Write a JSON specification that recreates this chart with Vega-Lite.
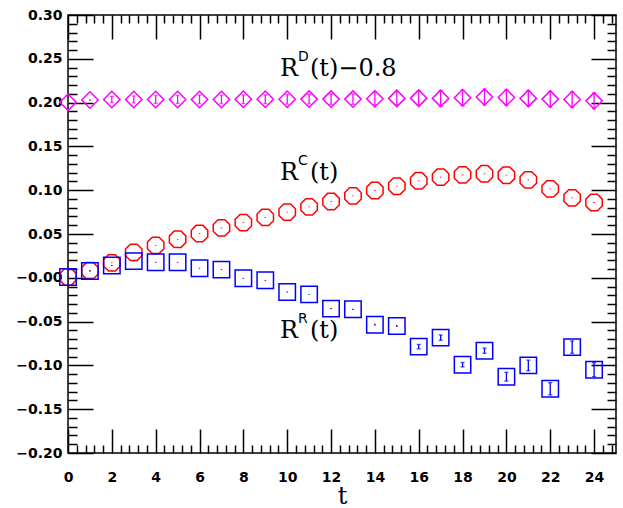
{
  "$schema": "https://vega.github.io/schema/vega-lite/v6.json",
  "width": 548,
  "height": 438,
  "autosize": "none",
  "padding": {"left": 68, "top": 15, "right": 7, "bottom": 55},
  "background": "white",
  "config": {
    "view": {"stroke": "black", "strokeWidth": 1.5},
    "axis": {
      "domain": false,
      "grid": false,
      "tickColor": "black",
      "tickWidth": 1.5,
      "labelFont": "DejaVu Sans",
      "labelFontWeight": "bold",
      "labelFontSize": 14,
      "labelColor": "black",
      "labelOverlap": false,
      "labelBound": false,
      "labelFlush": false
    }
  },
  "datasets": {
    "pts": [
      {"t": 0, "v": 0.2005, "err": 0.0005, "s": "D"},
      {"t": 1, "v": 0.2029, "err": 0.001, "s": "D"},
      {"t": 2, "v": 0.2036, "err": 0.0035, "s": "D"},
      {"t": 3, "v": 0.2036, "err": 0.004, "s": "D"},
      {"t": 4, "v": 0.2036, "err": 0.0045, "s": "D"},
      {"t": 5, "v": 0.2036, "err": 0.0045, "s": "D"},
      {"t": 6, "v": 0.2036, "err": 0.005, "s": "D"},
      {"t": 7, "v": 0.2036, "err": 0.005, "s": "D"},
      {"t": 8, "v": 0.2038, "err": 0.005, "s": "D"},
      {"t": 9, "v": 0.2038, "err": 0.005, "s": "D"},
      {"t": 10, "v": 0.2038, "err": 0.0055, "s": "D"},
      {"t": 11, "v": 0.204, "err": 0.0055, "s": "D"},
      {"t": 12, "v": 0.204, "err": 0.006, "s": "D"},
      {"t": 13, "v": 0.204, "err": 0.006, "s": "D"},
      {"t": 14, "v": 0.2044, "err": 0.007, "s": "D"},
      {"t": 15, "v": 0.2048, "err": 0.0075, "s": "D"},
      {"t": 16, "v": 0.2051, "err": 0.008, "s": "D"},
      {"t": 17, "v": 0.2048, "err": 0.009, "s": "D"},
      {"t": 18, "v": 0.2055, "err": 0.009, "s": "D"},
      {"t": 19, "v": 0.2063, "err": 0.009, "s": "D"},
      {"t": 20, "v": 0.2059, "err": 0.009, "s": "D"},
      {"t": 21, "v": 0.2048, "err": 0.009, "s": "D"},
      {"t": 22, "v": 0.204, "err": 0.009, "s": "D"},
      {"t": 23, "v": 0.2036, "err": 0.009, "s": "D"},
      {"t": 24, "v": 0.202, "err": 0.009, "s": "D"},
      {"t": 0, "v": 0.001, "err": 0.0005, "s": "C"},
      {"t": 1, "v": 0.008, "err": 0.0005, "s": "C"},
      {"t": 2, "v": 0.017, "err": 0.0005, "s": "C"},
      {"t": 3, "v": 0.029, "err": 0.0005, "s": "C"},
      {"t": 4, "v": 0.037, "err": 0.0005, "s": "C"},
      {"t": 5, "v": 0.044, "err": 0.0005, "s": "C"},
      {"t": 6, "v": 0.0505, "err": 0.0005, "s": "C"},
      {"t": 7, "v": 0.057, "err": 0.0005, "s": "C"},
      {"t": 8, "v": 0.063, "err": 0.0005, "s": "C"},
      {"t": 9, "v": 0.069, "err": 0.0005, "s": "C"},
      {"t": 10, "v": 0.075, "err": 0.0005, "s": "C"},
      {"t": 11, "v": 0.081, "err": 0.0005, "s": "C"},
      {"t": 12, "v": 0.087, "err": 0.0005, "s": "C"},
      {"t": 13, "v": 0.0935, "err": 0.0005, "s": "C"},
      {"t": 14, "v": 0.0996, "err": 0.0005, "s": "C"},
      {"t": 15, "v": 0.1046, "err": 0.0005, "s": "C"},
      {"t": 16, "v": 0.1107, "err": 0.0005, "s": "C"},
      {"t": 17, "v": 0.1149, "err": 0.0005, "s": "C"},
      {"t": 18, "v": 0.1175, "err": 0.0005, "s": "C"},
      {"t": 19, "v": 0.1187, "err": 0.0005, "s": "C"},
      {"t": 20, "v": 0.1171, "err": 0.0005, "s": "C"},
      {"t": 21, "v": 0.1118, "err": 0.0005, "s": "C"},
      {"t": 22, "v": 0.1015, "err": 0.0005, "s": "C"},
      {"t": 23, "v": 0.0912, "err": 0.0005, "s": "C"},
      {"t": 24, "v": 0.0859, "err": 0.0005, "s": "C"},
      {"t": 0, "v": 0.001, "err": 0.0005, "s": "R"},
      {"t": 1, "v": 0.0078, "err": 0.0005, "s": "R"},
      {"t": 2, "v": 0.014, "err": 0.0005, "s": "R"},
      {"t": 3, "v": 0.019, "err": 0.0005, "s": "R"},
      {"t": 4, "v": 0.0177, "err": 0.0005, "s": "R"},
      {"t": 5, "v": 0.0177, "err": 0.0005, "s": "R"},
      {"t": 6, "v": 0.0109, "err": 0.0005, "s": "R"},
      {"t": 7, "v": 0.0093, "err": 0.0005, "s": "R"},
      {"t": 8, "v": -0.0006, "err": 0.0005, "s": "R"},
      {"t": 9, "v": -0.0029, "err": 0.0005, "s": "R"},
      {"t": 10, "v": -0.0162, "err": 0.0005, "s": "R"},
      {"t": 11, "v": -0.0189, "err": 0.0005, "s": "R"},
      {"t": 12, "v": -0.0352, "err": 0.0008, "s": "R"},
      {"t": 13, "v": -0.036, "err": 0.0008, "s": "R"},
      {"t": 14, "v": -0.0535, "err": 0.001, "s": "R"},
      {"t": 15, "v": -0.055, "err": 0.001, "s": "R"},
      {"t": 16, "v": -0.0786, "err": 0.0025, "s": "R"},
      {"t": 17, "v": -0.0683, "err": 0.003, "s": "R"},
      {"t": 18, "v": -0.0992, "err": 0.0025, "s": "R"},
      {"t": 19, "v": -0.0832, "err": 0.003, "s": "R"},
      {"t": 20, "v": -0.1129, "err": 0.005, "s": "R"},
      {"t": 21, "v": -0.1, "err": 0.006, "s": "R"},
      {"t": 22, "v": -0.1267, "err": 0.007, "s": "R"},
      {"t": 23, "v": -0.0791, "err": 0.007, "s": "R"},
      {"t": 24, "v": -0.1049, "err": 0.008, "s": "R"}
    ],
    "labels": [
      {"t": 9.67, "v": 0.2303, "base": "R", "sup": "D", "rest": "(t)−0.8"},
      {"t": 9.67, "v": 0.1114, "base": "R", "sup": "C", "rest": "(t)"},
      {"t": 9.67, "v": -0.0691, "base": "R", "sup": "R", "rest": "(t)"}
    ]
  },
  "layer": [
    {
      "data": {"name": "pts"},
      "mark": {"type": "point", "filled": false, "strokeWidth": 1.5, "size": 270, "opacity": 1},
      "encoding": {
        "x": {
          "field": "t", "type": "quantitative",
          "scale": {"domain": [0, 25], "nice": false, "zero": false},
          "axis": {
            "orient": "bottom",
            "values": [0,0.4,0.8,1.2,1.6,2,2.4,2.8,3.2,3.6,4,4.4,4.8,5.2,5.6,6,6.4,6.8,7.2,7.6,8,8.4,8.8,9.2,9.6,10,10.4,10.8,11.2,11.6,12,12.4,12.8,13.2,13.6,14,14.4,14.8,15.2,15.6,16,16.4,16.8,17.2,17.6,18,18.4,18.8,19.2,19.6,20,20.4,20.8,21.2,21.6,22,22.4,22.8,23.2,23.6,24,24.4,24.8],
            "tickSize": {"condition": {"test": "abs(datum.value/2 - round(datum.value/2)) < 0.001", "value": -24}, "value": -8},
            "labelExpr": "abs(datum.value/2 - round(datum.value/2)) < 0.001 ? format(datum.value, 'd') : ''",
            "labelPadding": 41,
            "title": "t",
            "titleFont": "DejaVu Serif",
            "titleFontSize": 24,
            "titleFontWeight": "normal",
            "titleColor": "black",
            "titleBaseline": "alphabetic",
            "titleY": 50
          }
        },
        "y": {
          "field": "v", "type": "quantitative",
          "scale": {"domain": [-0.2, 0.3], "nice": false, "zero": false},
          "axis": {
            "orient": "left",
            "values": [-0.2,-0.19,-0.18,-0.17,-0.16,-0.15,-0.14,-0.13,-0.12,-0.11,-0.1,-0.09,-0.08,-0.07,-0.06,-0.05,-0.04,-0.03,-0.02,-0.01,0,0.01,0.02,0.03,0.04,0.05,0.06,0.07,0.08,0.09,0.1,0.11,0.12,0.13,0.14,0.15,0.16,0.17,0.18,0.19,0.2,0.21,0.22,0.23,0.24,0.25,0.26,0.27,0.28,0.29,0.3],
            "tickSize": {"condition": {"test": "abs(datum.value*20 - round(datum.value*20)) < 0.001", "value": -25}, "value": -9},
            "labelExpr": "abs(datum.value*20 - round(datum.value*20)) < 0.001 ? (abs(datum.value) < 0.000001 ? '−0.00' : format(datum.value, '.2f')) : ''",
            "labelPadding": 31,
            "title": null
          }
        },
        "color": {"field": "s", "type": "nominal", "scale": {"domain": ["D", "C", "R"], "range": ["#ff00ff", "#ff0000", "#0000ff"]}, "legend": null},
        "shape": {"field": "s", "type": "nominal", "scale": {"domain": ["D", "C", "R"], "range": ["diamond", "M-0.41,-1L0.41,-1L1,-0.41L1,0.41L0.41,1L-0.41,1L-1,0.41L-1,-0.41Z", "square"]}, "legend": null}
      }
    },
    {
      "data": {"name": "pts"},
      "transform": [{"filter": "datum.err >= 0.002"}],
      "mark": {"type": "errorbar", "thickness": 1.3, "ticks": {"size": 4, "thickness": 1.3}},
      "encoding": {
        "x": {"field": "t", "type": "quantitative", "axis": null},
        "y": {"field": "v", "type": "quantitative", "axis": null},
        "yError": {"field": "err"},
        "color": {"field": "s", "type": "nominal", "legend": null}
      }
    },
    {
      "data": {"name": "pts"},
      "transform": [{"filter": "datum.err < 0.002"}],
      "mark": {"type": "errorbar", "thickness": 1.5},
      "encoding": {
        "x": {"field": "t", "type": "quantitative", "axis": null},
        "y": {"field": "v", "type": "quantitative", "axis": null},
        "yError": {"field": "err"},
        "color": {"field": "s", "type": "nominal", "legend": null}
      }
    },
    {
      "data": {"name": "labels"},
      "mark": {"type": "text", "font": "DejaVu Serif", "fontSize": 24, "align": "left", "baseline": "alphabetic", "color": "black"},
      "encoding": {
        "x": {
          "field": "t", "type": "quantitative",
          "axis": {
            "orient": "top",
            "values": [0,0.4,0.8,1.2,1.6,2,2.4,2.8,3.2,3.6,4,4.4,4.8,5.2,5.6,6,6.4,6.8,7.2,7.6,8,8.4,8.8,9.2,9.6,10,10.4,10.8,11.2,11.6,12,12.4,12.8,13.2,13.6,14,14.4,14.8,15.2,15.6,16,16.4,16.8,17.2,17.6,18,18.4,18.8,19.2,19.6,20,20.4,20.8,21.2,21.6,22,22.4,22.8,23.2,23.6,24,24.4,24.8],
            "tickSize": {"condition": {"test": "abs(datum.value/2 - round(datum.value/2)) < 0.001", "value": -24}, "value": -8},
            "labels": false,
            "title": null
          }
        },
        "y": {
          "field": "v", "type": "quantitative",
          "axis": {
            "orient": "right",
            "values": [-0.2,-0.19,-0.18,-0.17,-0.16,-0.15,-0.14,-0.13,-0.12,-0.11,-0.1,-0.09,-0.08,-0.07,-0.06,-0.05,-0.04,-0.03,-0.02,-0.01,0,0.01,0.02,0.03,0.04,0.05,0.06,0.07,0.08,0.09,0.1,0.11,0.12,0.13,0.14,0.15,0.16,0.17,0.18,0.19,0.2,0.21,0.22,0.23,0.24,0.25,0.26,0.27,0.28,0.29,0.3],
            "tickSize": {"condition": {"test": "abs(datum.value*20 - round(datum.value*20)) < 0.001", "value": -25}, "value": -9},
            "labels": false,
            "title": null
          }
        },
        "text": {"field": "base"}
      }
    },
    {
      "data": {"name": "labels"},
      "mark": {"type": "text", "font": "DejaVu Sans", "fontSize": 14, "align": "left", "baseline": "alphabetic", "dx": 18, "dy": -15, "color": "black"},
      "encoding": {
        "x": {"field": "t", "type": "quantitative", "axis": null},
        "y": {"field": "v", "type": "quantitative", "axis": null},
        "text": {"field": "sup"}
      }
    },
    {
      "data": {"name": "labels"},
      "mark": {"type": "text", "font": "DejaVu Serif", "fontSize": 24, "align": "left", "baseline": "alphabetic", "dx": 30, "color": "black"},
      "encoding": {
        "x": {"field": "t", "type": "quantitative", "axis": null},
        "y": {"field": "v", "type": "quantitative", "axis": null},
        "text": {"field": "rest"}
      }
    }
  ],
  "resolve": {"axis": {"x": "independent", "y": "independent"}}
}
